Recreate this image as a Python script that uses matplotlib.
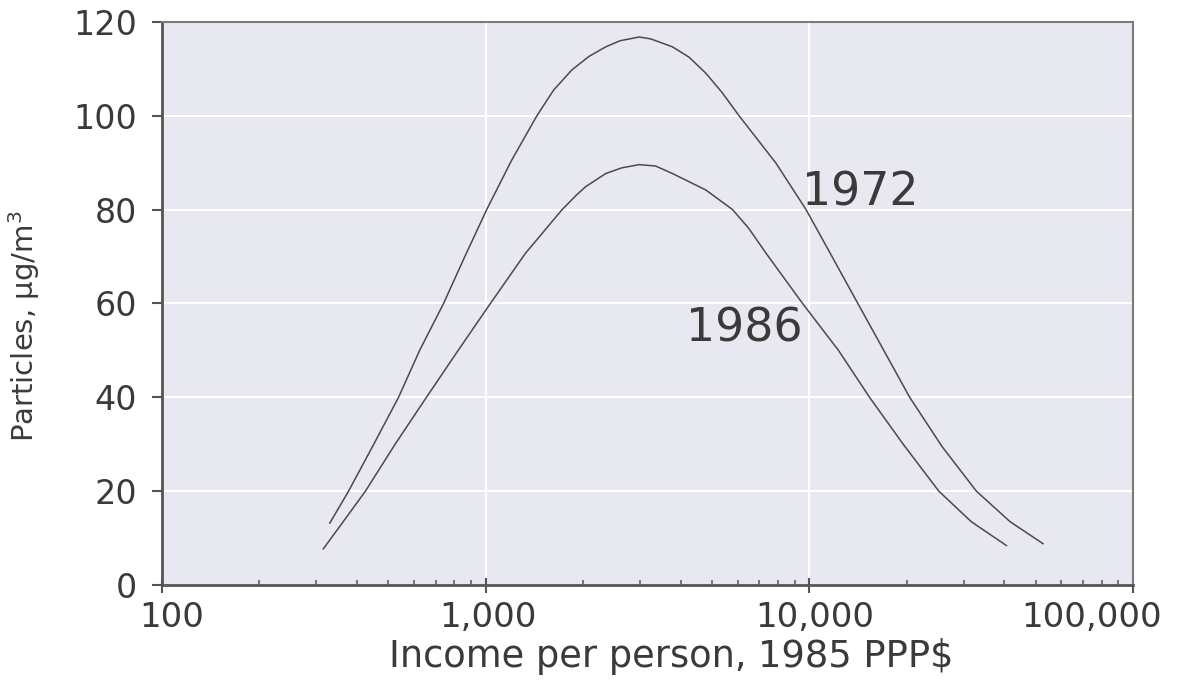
import matplotlib
matplotlib.use('Agg')
import matplotlib.pyplot as plt
from matplotlib.ticker import FixedLocator, LogLocator, NullFormatter
from matplotlib.transforms import ScaledTranslation

# values (income in 1985 PPP$, particles in ug/m3)
incomes_1972 = [330, 377, 447, 538, 625, 741, 862, 1007, 1202, 1439, 1622, 1847, 2089,
                2349, 2600, 2979, 3236, 3776, 4250, 4786, 5370, 6067, 7888, 9770,
                11749, 14120, 16982, 20417, 25704, 32810, 41687, 52723]
particles_1972 = [13.2, 20, 29.5, 40, 50, 60, 70, 80, 90.5, 100, 105.5, 109.8, 112.7,
                  114.7, 116.0, 116.8, 116.4, 114.7, 112.5, 109.1, 105, 100, 89.9, 80,
                  70, 60, 50, 40, 29.5, 20, 13.5, 8.8]

incomes_1986 = [315, 363, 425, 525, 656, 822, 1034, 1327, 1722, 1900, 2036, 2349, 2630,
                2979, 3350, 3776, 4786, 5794, 6500, 7350, 9530, 12303, 15346, 19498,
                25119, 31623, 40644]
particles_1986 = [7.7, 13.5, 20, 30, 40, 50, 60, 70.7, 80, 83, 84.9, 87.7, 88.9,
                  89.6, 89.3, 87.7, 84.2, 80, 76, 70.7, 60, 50, 40, 30,
                  20, 13.5, 8.4]

x_ticks = [100, 1000, 10000, 100000]
x_tick_labels = ['100', '1,000', '10,000', '100,000']
x_label_shift = [0.10, 0.02, 0.05, -0.41]   # inches, labels in the scan are nudged
y_ticks = [0, 20, 40, 60, 80, 100, 120]

text_color = '#3a3a3a'
line_color = '#4a4a4a'
axis_color = '#555555'

plt.rcParams['font.family'] = ['DejaVu Sans']

fig = plt.figure(figsize=(11.8, 6.83), dpi=100)
ax = fig.add_axes([0.1373, 0.1435, 0.8229, 0.8243])
ax.set_facecolor('#e7e8f0')

ax.set_xscale('log')
ax.set_xlim(100, 100000)
ax.set_ylim(0, 120)

# white grid on the grey panel
for y in y_ticks[1:-1]:
    ax.axhline(y, color='white', lw=1.5, zorder=1)
for x in x_ticks[1:-1]:
    ax.axvline(x, color='white', lw=1.5, zorder=1)

ax.plot(incomes_1972, particles_1972, color=line_color, lw=1.1, zorder=3)
ax.plot(incomes_1986, particles_1986, color=line_color, lw=1.1, zorder=3)

ax.text(9500, 83.5, '1972', fontsize=33, color=text_color, ha='left', va='center', zorder=4)
ax.text(4150, 54.5, '1986', fontsize=33, color=text_color, ha='left', va='center', zorder=4)

# ticks
ax.xaxis.set_major_locator(FixedLocator(x_ticks))
ax.set_xticklabels(x_tick_labels)
ax.xaxis.set_minor_locator(LogLocator(base=10, subs=range(2, 10)))
ax.xaxis.set_minor_formatter(NullFormatter())
ax.tick_params(axis='x', which='major', direction='inout', length=10.8, width=1.5,
               color=axis_color, labelsize=24.5, labelcolor=text_color, pad=6)
ax.tick_params(axis='x', which='minor', direction='in', length=3.6, width=1.1, color=axis_color)

for label, dx in zip(ax.get_xticklabels(), x_label_shift):
    label.set_transform(label.get_transform() + ScaledTranslation(dx, 0, fig.dpi_scale_trans))

ax.set_yticks(y_ticks)
ax.tick_params(axis='y', which='major', direction='out', length=7.2, width=1.5,
               color=axis_color, labelsize=24, labelcolor=text_color, pad=10.8)

for side in ['left', 'bottom']:
    ax.spines[side].set_color(axis_color)
    ax.spines[side].set_linewidth(2)
for side in ['top', 'right']:
    ax.spines[side].set_color('#7a7a7a')
    ax.spines[side].set_linewidth(1.5)

ax.set_xlabel('Income per person, 1985 PPP$', fontsize=26.5, color=text_color)
ax.xaxis.set_label_coords(0.524, -0.0945)
ax.set_ylabel('Particles, µg/m$^3$', fontsize=21, color=text_color)
ax.yaxis.set_label_coords(-0.1236, 0.46)

fig.savefig('out.png', dpi=100)
